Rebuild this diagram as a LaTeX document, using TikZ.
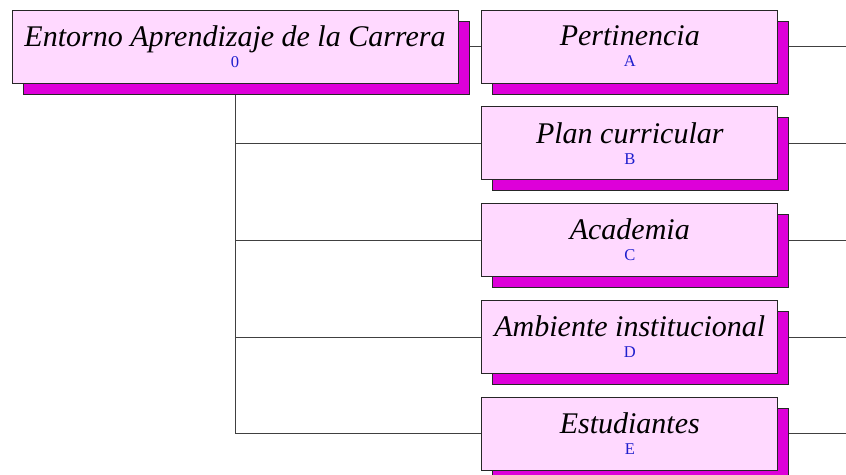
\documentclass[tikz,border=0pt]{standalone}
\usepackage{fontspec}
\setmainfont{Liberation Serif}
\usepackage{tikz}
\usetikzlibrary{positioning,shadows,backgrounds}
\definecolor{boxpink}{RGB}{255,217,255}
\definecolor{shadowmag}{RGB}{221,0,217}
\definecolor{codeblue}{RGB}{30,30,205}
% title of a box on the first line, its code below it
\newcommand{\Caja}[2]{#1\\{\upshape\color{codeblue}\fontsize{16.5}{16.5}\selectfont #2}}

\begin{document}
\begin{tikzpicture}[x=1pt,y=1pt,% styles for all boxes and lines
			every node/.style={
				align=center,		% so that "\\" breaks the line
				inner sep=0pt
			},
			caja/.style={rectangle,draw=black!85,line width=0.8pt,fill=boxpink,
				font=\itshape\fontsize{30}{21}\selectfont,
				minimum height=73pt,minimum width=296pt,
				copy shadow={shadow xshift=11pt,shadow yshift=-11pt,fill=shadowmag,draw=black!85}},
			every edge/.style={draw,black!75,line width=0.8pt}
		]
		\useasboundingbox (0,0) rectangle (846,-474);
		\node[caja,minimum width=446pt](R0) at (235,-46.5){\Caja{Entorno Aprendizaje de la Carrera}{0}};
		\node[caja](RA)[right=23pt of R0]{\Caja{Pertinencia}{A}};
		\node[caja](RB)[below=23pt of RA]{\Caja{Plan curricular}{B}};
		\node[caja](RC)[below=23pt of RB]{\Caja{Academia}{C}};
		\node[caja](RD)[below=23pt of RC]{\Caja{Ambiente institucional}{D}};
		\node[caja](RE)[below=23pt of RD]{\Caja{Estudiantes}{E}};
		\begin{scope}[on background layer]
			\foreach \n in {A,B,C,D,E}
				\coordinate (F\n) at ([xshift=69pt]R\n.east);
			\draw[black!75,line width=0.8pt] (R0.south) |- (RE.west);
			\path
			(R0)edge [] (RA)
			(R0.south |- RB.west)edge [] (RB.west)
			(R0.south |- RC.west)edge [] (RC.west)
			(R0.south |- RD.west)edge [] (RD.west)
			(RA.east)edge [] (FA)
			(RB.east)edge [] (FB)
			(RC.east)edge [] (FC)
			(RD.east)edge [] (FD)
			(RE.east)edge [] (FE)
			;
		\end{scope}
	\end{tikzpicture}
\end{document}
